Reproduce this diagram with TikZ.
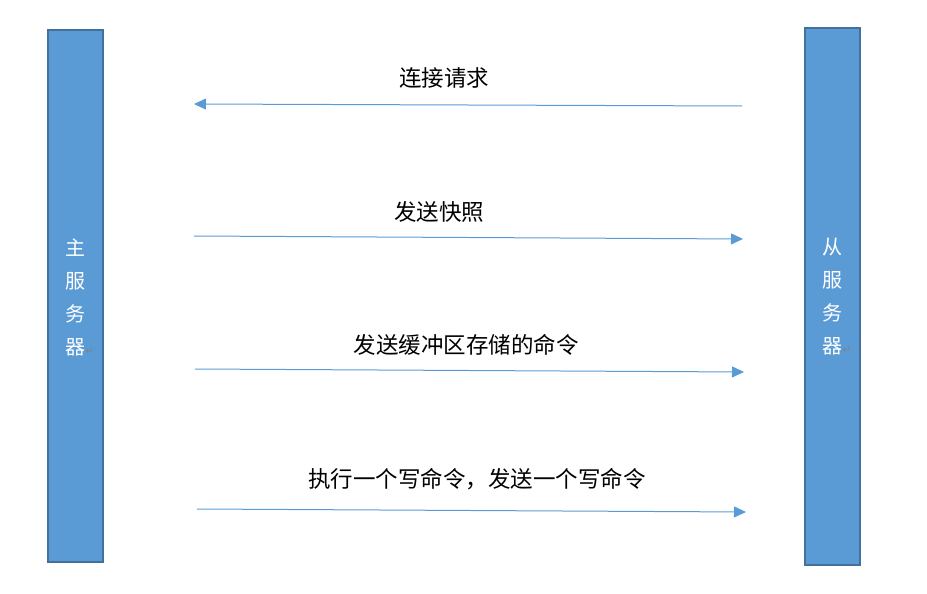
\documentclass[tikz,border=0pt]{standalone}
\usepackage{fontspec}
\newfontfamily\cjk{Noto Sans CJK SC}
\newfontfamily\symfont{DejaVu Sans}
\usetikzlibrary{arrows.meta}
\definecolor{barfill}{HTML}{5B9BD5}
\definecolor{barline}{HTML}{41719C}
\newcommand{\parmark}{\rlap{\symfont\fontsize{10}{10}\selectfont\textcolor{gray}{↵}}}
\tikzset{
	server/.style = {draw = barline, line width = 2pt, fill = barfill, minimum width = 55pt, inner sep = 0pt},
	servername/.style = {text = white, align = center, font = \cjk\fontsize{20}{33}\selectfont},
	msg/.style = {barfill, line width = 1pt, -{Triangle[length = 12pt, width = 11pt]}},
	msglabel/.style = {font = \cjk\fontsize{22.5}{26}\selectfont},
}
\begin{document}
\begin{tikzpicture}[x = 1pt, y = -1pt]
		\useasboundingbox (0,0) rectangle (927,594);
		% the two servers
		\node [server, minimum height = 532pt] (master) at (75.5,296) {};
		\node [server, minimum height = 537pt] (slave) at (832.5,296.5) {};
		\node [servername] (mastername) at (75.5,297) {主\\服\\务\\器\parmark};
		\node [servername] (slavename) at (832.5,297) {从\\服\\务\\器\parmark};
		% message ends
		\coordinate (req s) at (742,106);
		\coordinate (req e) at (194,104);
		\coordinate (snap s) at (194,236);
		\coordinate (snap e) at (743,239);
		\coordinate (buf s) at (195,369);
		\coordinate (buf e) at (744,372);
		\coordinate (cmd s) at (197,509);
		\coordinate (cmd e) at (746,512);
		% messages
		\draw [msg] (req s) -- (req e);
		\node [msglabel] (reqlabel) at (444,78) {连接请求};
		\draw [msg] (snap s) -- (snap e);
		\node [msglabel] (snaplabel) at (439,212) {发送快照};
		\draw [msg] (buf s) -- (buf e);
		\node [msglabel] (buflabel) at (466,345) {发送缓冲区存储的命令};
		\draw [msg] (cmd s) -- (cmd e);
		\node [msglabel] (cmdlabel) at (477,479) {执行一个写命令，发送一个写命令};
	\end{tikzpicture}
\end{document}
